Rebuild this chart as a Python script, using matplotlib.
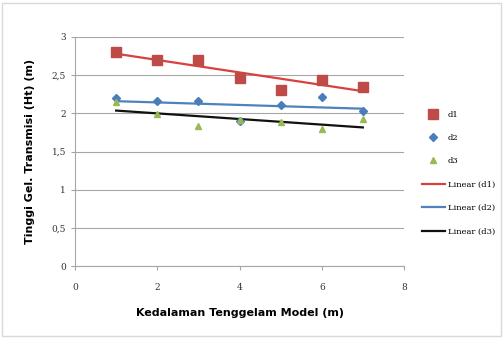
import numpy as np
import matplotlib.pyplot as plt

# depth of model (m)
depth = [1, 2, 3, 4, 5, 6, 7]
d1 = [2.80, 2.70, 2.70, 2.46, 2.31, 2.44, 2.34]
d2 = [2.20, 2.16, 2.16, 1.90, 2.11, 2.21, 2.03]
d3 = [2.15, 1.99, 1.83, 1.91, 1.89, 1.79, 1.92]
series_names = ["d1", "d2", "d3"]

marker_colors = ["#be4b48", "#4a7ebb", "#98b954"]
markers = ["s", "D", "^"]
marker_sizes = [7, 4.5, 5]
trend_colors = ["#d9413e", "#4f81bd", "#111111"]

fig = plt.figure(figsize=(5.04, 3.38), dpi=100)
fig.patch.set_facecolor("white")
# light border around the whole chart
fig.add_artist(plt.Rectangle((0.004, 0.006), 0.99, 0.985, transform=fig.transFigure,
                             fill=False, edgecolor="#d9d9d9", linewidth=1))

ax = fig.add_axes([75 / 504, 1 - 266 / 338, (404 - 75) / 504, (266 - 37) / 338])

x = np.array(depth)
handles = []
for vals, name, mc, mk, ms in zip([d1, d2, d3], series_names, marker_colors, markers, marker_sizes):
    h, = ax.plot(x, vals, linestyle="none", marker=mk, color=mc, markersize=ms,
                 markeredgecolor=mc, label=name, zorder=3)
    handles.append(h)

for vals, name, tc in zip([d1, d2, d3], series_names, trend_colors):
    k, b = np.polyfit(x, vals, 1)
    xx = np.array([x.min(), x.max()])
    h, = ax.plot(xx, k * xx + b, color=tc, linewidth=1.6, label=f"Linear ({name})", zorder=2)
    handles.append(h)

ax.set_xlim(0, 8)
ax.set_ylim(0, 3)
ax.set_xticks([0, 2, 4, 6, 8])
ax.set_yticks([0, 0.5, 1, 1.5, 2, 2.5, 3])
ax.set_yticklabels(["0", "0,5", "1", "1,5", "2", "2,5", "3"])
ax.grid(axis="y", color="#a6a6a6", linewidth=0.8)
ax.set_axisbelow(True)
for s in ["top", "right"]:
    ax.spines[s].set_visible(False)
for s in ["left", "bottom"]:
    ax.spines[s].set_color("#a6a6a6")
ax.tick_params(axis="both", labelsize=6.5, length=3, color="#a6a6a6", labelcolor="#333333")
ax.tick_params(axis="x", pad=9)
for lab in ax.get_xticklabels() + ax.get_yticklabels():
    lab.set_family("DejaVu Serif")

ax.set_xlabel("Kedalaman Tenggelam Model (m)", fontsize=8, fontweight="bold", labelpad=12)
ax.set_ylabel("Tinggi Gel. Transmisi (Ht) (m)", fontsize=8, fontweight="bold", labelpad=12)

leg = fig.legend(handles=handles, loc="center left", bbox_to_anchor=(0.822, 0.488),
                 frameon=False, handlelength=2.8, labelspacing=1.85,
                 handletextpad=0.3, prop={"family": "DejaVu Serif", "size": 6})

plt.savefig("out.png", dpi=100)
